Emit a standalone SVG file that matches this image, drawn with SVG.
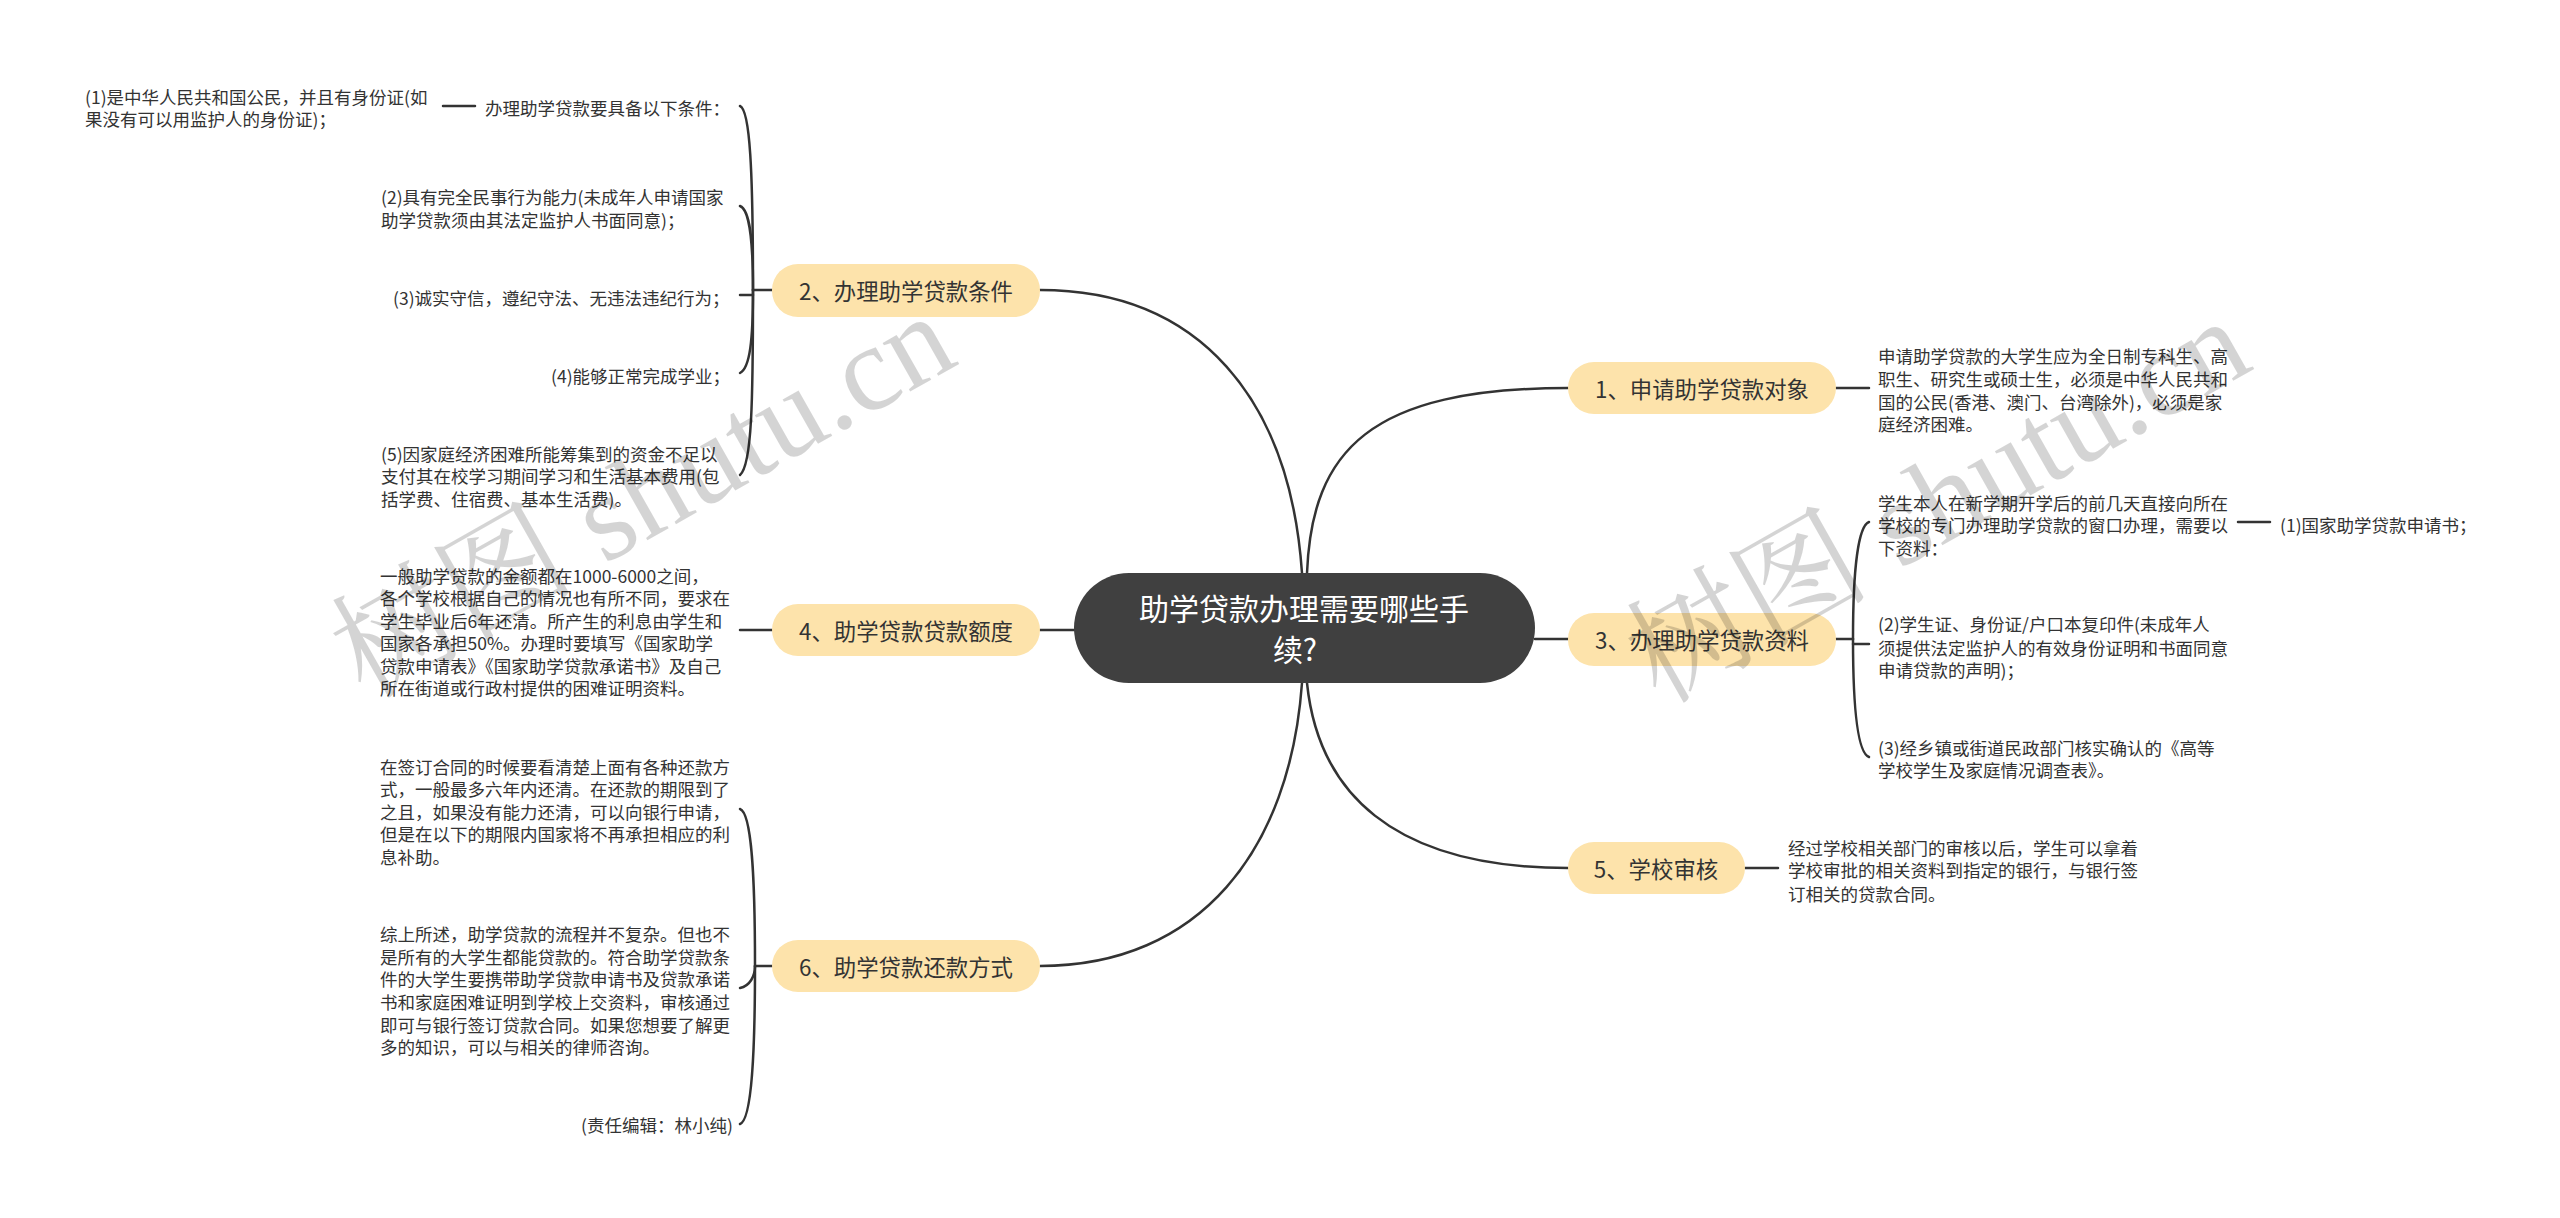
<svg xmlns="http://www.w3.org/2000/svg" width="2560" height="1218" viewBox="0 0 2560 1218">
<style>
text{font-family:"Noto Sans CJK SC","Noto Sans",sans-serif}
.d{font-size:17.5px;fill:#333;dominant-baseline:central}
.n{font-size:22.4px;fill:#333;text-anchor:middle;dominant-baseline:central}
.p{fill:#fde3ab}
.c{fill:none;stroke:#333;stroke-width:2.5;stroke-linecap:round}
.t{font-size:30px;fill:#fff;text-anchor:middle;dominant-baseline:central}
.w{font-family:"Liberation Serif","Noto Serif CJK SC","Noto Sans CJK SC",serif;font-size:122px;fill:#000;fill-opacity:.17}
</style>
<rect width="2560" height="1218" fill="#fff"/>
<g id="connectors">
<path class="c" d="M1302 573C1290 400 1200 290 1040 290"/>
<path class="c" d="M1307 573C1312 450 1370 388 1568 388"/>
<path class="c" d="M1075 630H1040"/>
<path class="c" d="M1535 639H1568"/>
<path class="c" d="M1302 683C1290 850 1200 966 1040 966"/>
<path class="c" d="M1307 683C1318 790 1390 868 1568 868"/>
<path class="c" d="M772 290H753"/>
<path class="c" d="M740 106C750 110 753 170 753 290"/>
<path class="c" d="M740 206C750 210 753 240 753 290"/>
<path class="c" d="M740 295H753"/>
<path class="c" d="M740 373C750 368 753 340 753 290"/>
<path class="c" d="M740 475C752 465 753 400 753 290"/>
<path class="c" d="M443 106H475"/>
<path class="c" d="M772 630H740"/>
<path class="c" d="M772 966H755"/>
<path class="c" d="M740 809C752 813 755 880 755 966"/>
<path class="c" d="M740 988C750 986 755 976 755 966"/>
<path class="c" d="M740 1124C752 1120 755 1050 755 966"/>
<path class="c" d="M1836 388H1869"/>
<path class="c" d="M1836 639H1853"/>
<path class="c" d="M1869 522C1858 526 1853 570 1853 639"/>
<path class="c" d="M1869 644H1853"/>
<path class="c" d="M1869 757C1858 753 1853 710 1853 639"/>
<path class="c" d="M2238 522H2270"/>
<path class="c" d="M1745 868H1778"/>
</g>
<g id="root"><rect x="1074" y="573" width="461" height="110" rx="55" fill="#404040"/><text class="t" x="1304" y="607">助学贷款办理需要哪些手</text><text class="t" x="1295" y="648">续?</text></g>
<g id="n1"><rect class="p" x="1568" y="362" width="268" height="52" rx="26"/><text class="n" x="1702" y="388">1、申请助学贷款对象</text></g>
<g id="n2"><rect class="p" x="772" y="264" width="268" height="53" rx="26"/><text class="n" x="906" y="290">2、办理助学贷款条件</text></g>
<g id="n3"><rect class="p" x="1568" y="613" width="268" height="53" rx="26"/><text class="n" x="1702" y="639">3、办理助学贷款资料</text></g>
<g id="n4"><rect class="p" x="772" y="604" width="268" height="52" rx="26"/><text class="n" x="906" y="630">4、助学贷款贷款额度</text></g>
<g id="n5"><rect class="p" x="1568" y="842" width="177" height="52" rx="26"/><text class="n" x="1656" y="868">5、学校审核</text></g>
<g id="n6"><rect class="p" x="772" y="940" width="268" height="52" rx="26"/><text class="n" x="906" y="966">6、助学贷款还款方式</text></g>
<g id="d2-1"><text class="d" x="485" y="107">办理助学贷款要具备以下条件：</text></g>
<g id="d2-1-1"><text class="d" x="85" y="96">(1)是中华人民共和国公民，并且有身份证(如</text><text class="d" x="85" y="118">果没有可以用监护人的身份证)；</text></g>
<g id="d2-2"><text class="d" x="381" y="196">(2)具有完全民事行为能力(未成年人申请国家</text><text class="d" x="381" y="219">助学贷款须由其法定监护人书面同意)；</text></g>
<g id="d2-3"><text class="d" x="393" y="297">(3)诚实守信，遵纪守法、无违法违纪行为；</text></g>
<g id="d2-4"><text class="d" x="551" y="375">(4)能够正常完成学业；</text></g>
<g id="d2-5"><text class="d" x="381" y="453">(5)因家庭经济困难所能筹集到的资金不足以</text><text class="d" x="381" y="475">支付其在校学习期间学习和生活基本费用(包</text><text class="d" x="381" y="498">括学费、住宿费、基本生活费)。</text></g>
<g id="d4"><text class="d" x="380" y="575">一般助学贷款的金额都在1000-6000之间，</text><text class="d" x="380" y="597">各个学校根据自己的情况也有所不同，要求在</text><text class="d" x="380" y="620">学生毕业后6年还清。所产生的利息由学生和</text><text class="d" x="380" y="642">国家各承担50%。办理时要填写《国家助学</text><text class="d" x="380" y="665">贷款申请表》《国家助学贷款承诺书》及自己</text><text class="d" x="380" y="687">所在街道或行政村提供的困难证明资料。</text></g>
<g id="d6-1"><text class="d" x="380" y="766">在签订合同的时候要看清楚上面有各种还款方</text><text class="d" x="380" y="788">式，一般最多六年内还清。在还款的期限到了</text><text class="d" x="380" y="811">之且，如果没有能力还清，可以向银行申请，</text><text class="d" x="380" y="833">但是在以下的期限内国家将不再承担相应的利</text><text class="d" x="380" y="856">息补助。</text></g>
<g id="d6-2"><text class="d" x="380" y="933">综上所述，助学贷款的流程并不复杂。但也不</text><text class="d" x="380" y="956">是所有的大学生都能贷款的。符合助学贷款条</text><text class="d" x="380" y="978">件的大学生要携带助学贷款申请书及贷款承诺</text><text class="d" x="380" y="1001">书和家庭困难证明到学校上交资料，审核通过</text><text class="d" x="380" y="1024">即可与银行签订贷款合同。如果您想要了解更</text><text class="d" x="380" y="1046">多的知识，可以与相关的律师咨询。</text></g>
<g id="d6-3"><text class="d" x="581" y="1124">(责任编辑：林小纯)</text></g>
<g id="d1"><text class="d" x="1878" y="355">申请助学贷款的大学生应为全日制专科生、高</text><text class="d" x="1878" y="378">职生、研究生或硕士生，必须是中华人民共和</text><text class="d" x="1878" y="401">国的公民(香港、澳门、台湾除外)，必须是家</text><text class="d" x="1878" y="423">庭经济困难。</text></g>
<g id="d3-1"><text class="d" x="1878" y="502">学生本人在新学期开学后的前几天直接向所在</text><text class="d" x="1878" y="524">学校的专门办理助学贷款的窗口办理，需要以</text><text class="d" x="1878" y="547">下资料：</text></g>
<g id="d3-1-1"><text class="d" x="2280" y="524">(1)国家助学贷款申请书；</text></g>
<g id="d3-2"><text class="d" x="1878" y="623">(2)学生证、身份证/户口本复印件(未成年人</text><text class="d" x="1878" y="647">须提供法定监护人的有效身份证明和书面同意</text><text class="d" x="1878" y="669">申请贷款的声明)；</text></g>
<g id="d3-3"><text class="d" x="1878" y="747">(3)经乡镇或街道民政部门核实确认的《高等</text><text class="d" x="1878" y="769">学校学生及家庭情况调查表》。</text></g>
<g id="d5"><text class="d" x="1788" y="847">经过学校相关部门的审核以后，学生可以拿着</text><text class="d" x="1788" y="869">学校审批的相关资料到指定的银行，与银行签</text><text class="d" x="1788" y="893">订相关的贷款合同。</text></g>
<g id="watermarks"><text class="w" transform="translate(365 700) rotate(-29.5)">树图 shutu.cn</text><text class="w" transform="translate(1660 705) rotate(-29.5)">树图 shutu.cn</text></g>
</svg>
